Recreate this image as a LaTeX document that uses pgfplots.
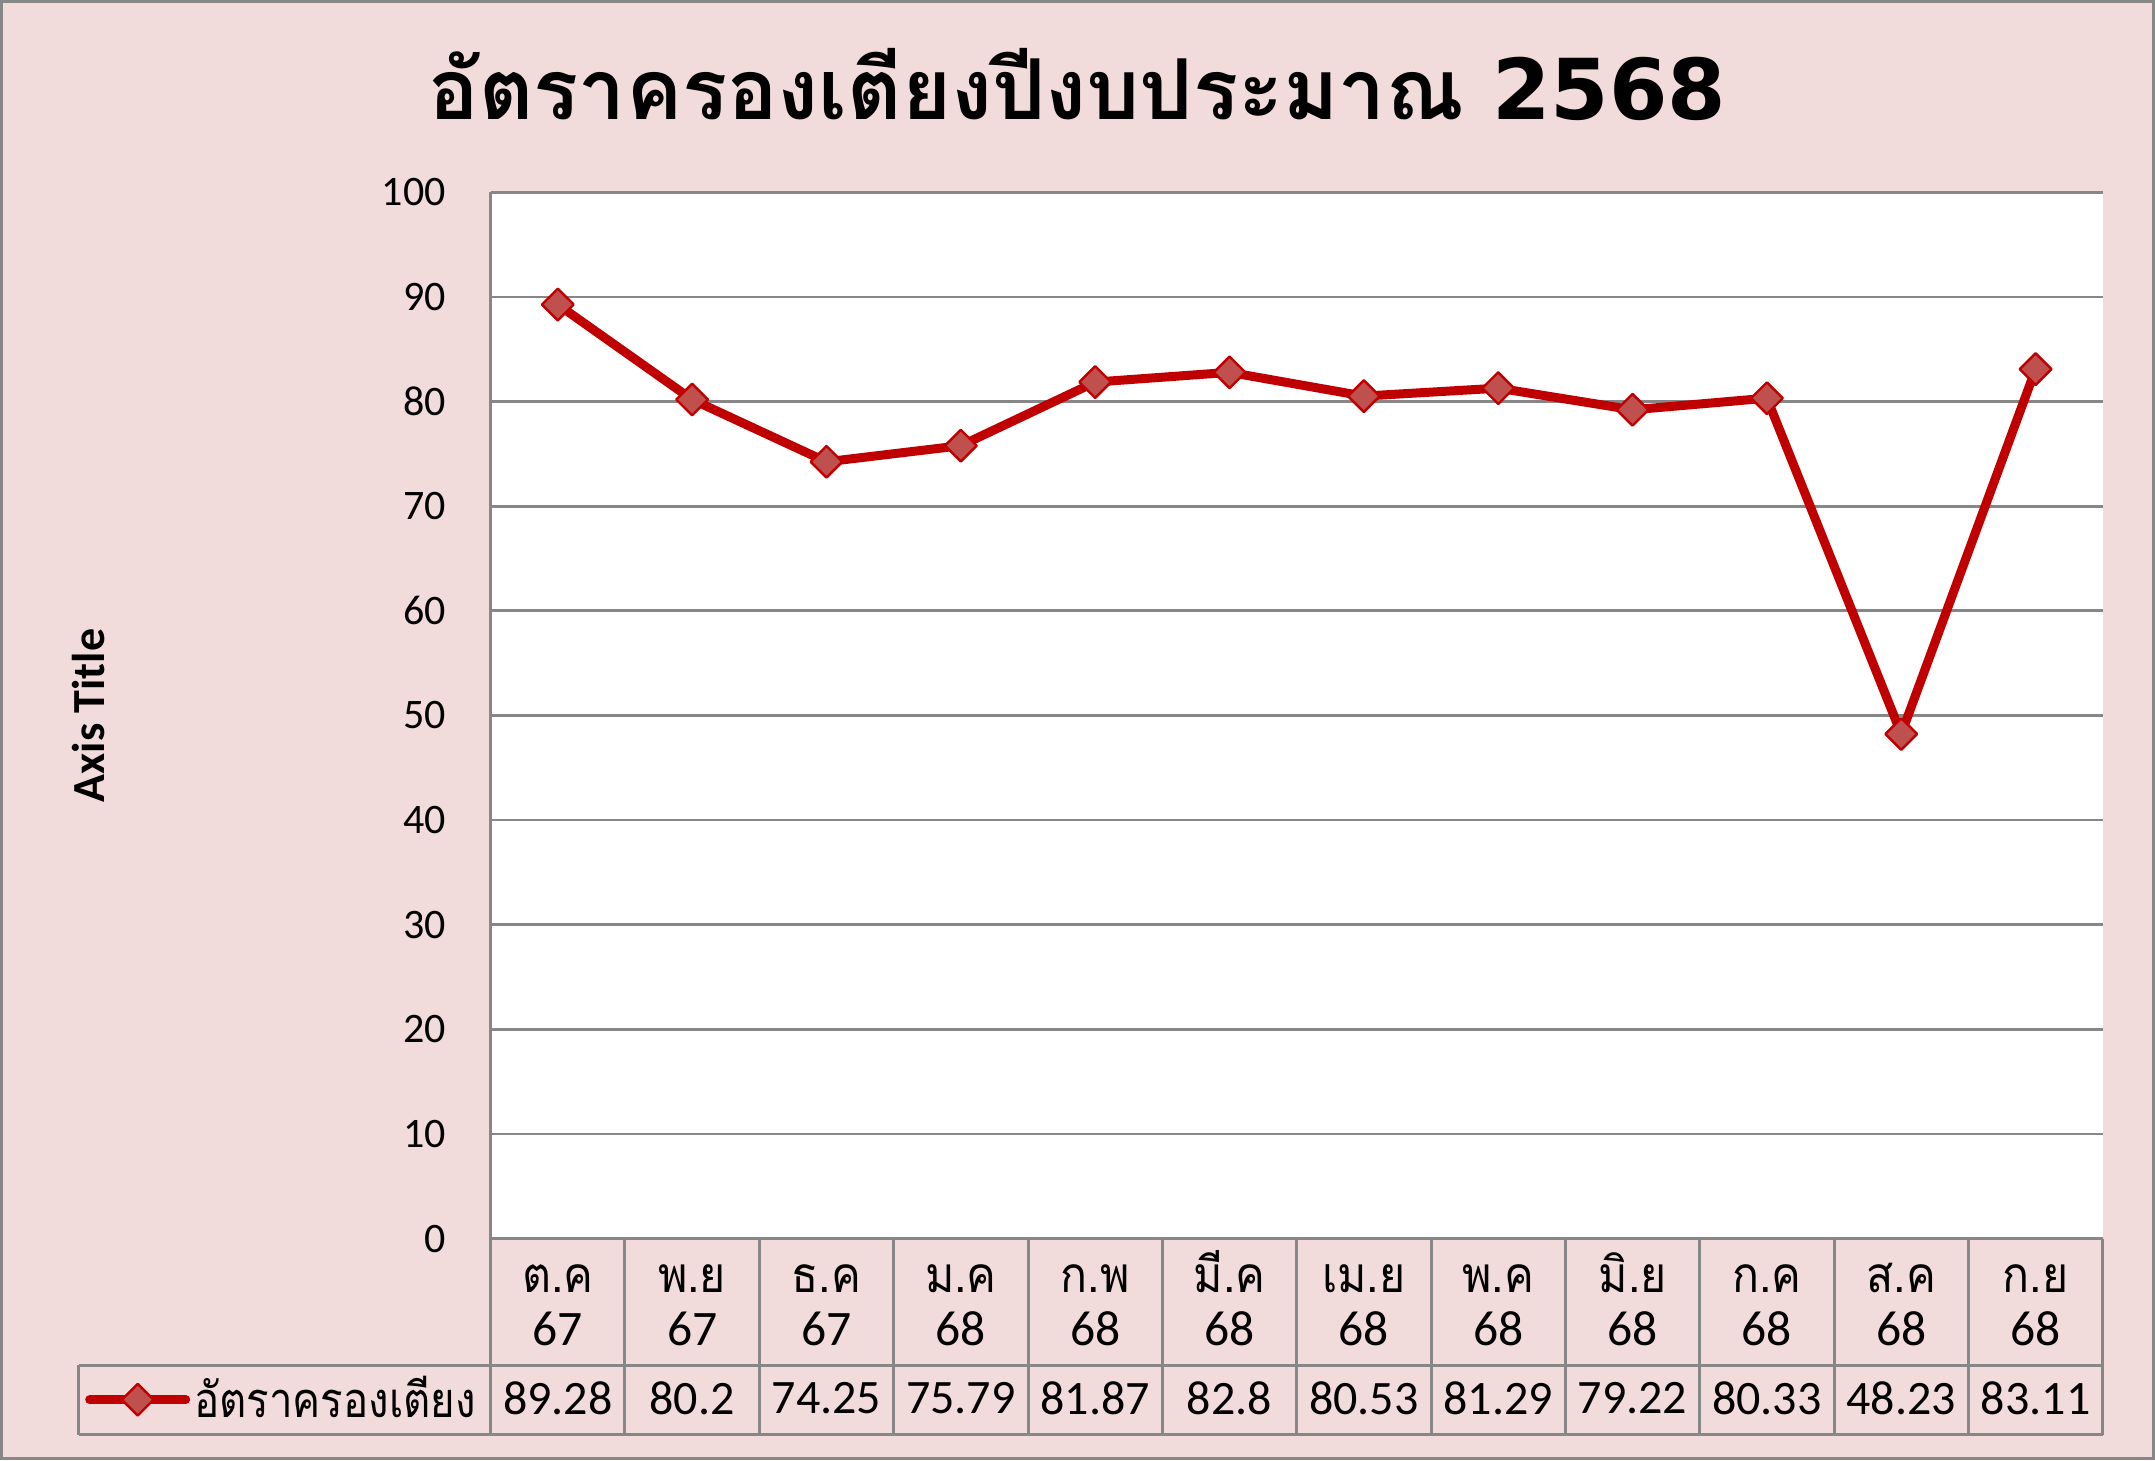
\documentclass[border=0pt]{standalone}
\usepackage{fontspec}
\setmainfont{Carlito}
\newfontfamily\thaifont[Script=Thai]{Loma}
\newfontfamily\thaitab[Script=Thai, FakeStretch=0.9]{Loma}
\newfontfamily\thaileg[Script=Thai, FakeStretch=0.86]{Loma}
\newfontfamily\titledigits{DejaVu Sans}
\usepackage{pgfplots}
\usepackage{pgfplotstable}
\pgfplotsset{compat=1.18}
\definecolor{bgpink}{HTML}{F2DCDB}
\definecolor{linered}{HTML}{C00000}
\definecolor{markred}{HTML}{C0504D}
\definecolor{gridgray}{HTML}{878787}

\pgfplotstableread{
x v
0 89.28
1 80.2
2 74.25
3 75.79
4 81.87
5 82.8
6 80.53
7 81.29
8 79.22
9 80.33
10 48.23
11 83.11
}\occ

\newcommand\tl[2]{{\thaitab\strut\smash{#1}}\\#2\strut}

\begin{document}
\begin{tikzpicture}
\fill[bgpink] (-122.65pt,-55.4pt) rectangle (416.05pt,309.6pt);
\begin{axis}[
 scale only axis, width=403pt, height=261.5pt,
 xmin=-0.5, xmax=11.5, ymin=0, ymax=100,
 ytick={0,10,...,100},
 xtick={0,...,11},
 xticklabels={\tl{ต.ค}{67},\tl{พ.ย}{67},\tl{ธ.ค}{67},\tl{ม.ค}{68},\tl{ก.พ}{68},\tl{มี.ค}{68},\tl{เม.ย}{68},\tl{พ.ค}{68},\tl{มิ.ย}{68},\tl{ก.ค}{68},\tl{ส.ค}{68},\tl{ก.ย}{68}},
 axis line style={draw=none},
 tick style={draw=none},
 ymajorgrids, grid style={gridgray, line width=0.7pt},
 axis background/.style={fill=white},
 clip=false,
 /pgf/number format/assume math mode=true,
 yticklabel style={font=\fontsize{10.5}{12}\selectfont, anchor=east, inner sep=0pt, xshift=-11pt},
 xticklabel style={font=\fontsize{12.4}{13.3}\selectfont, anchor=center, align=center, inner sep=0pt, yshift=-17.4pt},
 ylabel={\bfseries Axis Title},
 ylabel style={font=\fontsize{11.5}{13}\selectfont, at={(-0.2497,0.5)}, anchor=center},
 legend style={at={(-0.2515,-0.1541)}, anchor=west, draw=none, fill=none, inner sep=0pt, outer sep=0pt,
   font=\thaileg\fontsize{12.2}{13}\selectfont, nodes={inner sep=1pt},
   /tikz/every even column/.style={column sep=0pt}},
 legend image code/.code={\draw[#1, line cap=round, mark repeat=2, mark phase=2] plot coordinates {(0pt,0pt) (12pt,0pt) (24pt,0pt)};},
]
\addplot[linered, line width=2.25pt, line join=round, mark=square*, mark size=2.8pt,
  mark options={rotate=45, fill=markred, draw=linered, line width=0.6pt, solid}]
  table[x=x, y=v] {\occ};
\addlegendentry{อัตราครองเตียง}
\addplot[draw=none, mark=none, forget plot, nodes near coords, point meta=explicit symbolic,
  nodes near coords align={anchor=center},
  nodes near coords style={anchor=center, font=\fontsize{12}{13}\selectfont, inner sep=0pt, text=black}]
  table[x=x, y expr=-15.3, meta=v] {\occ};
\draw[gridgray, line width=0.75pt] (axis cs:-0.5,100) -- (axis cs:-0.5,-18.76);
\pgfplotsinvokeforeach{0.5,1.5,...,11.5}{\draw[gridgray, line width=0.75pt] (axis cs:#1,0) -- (axis cs:#1,-18.76);}
\draw[gridgray, line width=0.75pt] (axis cs:-0.5,0) -- (axis cs:11.5,0);
\draw[gridgray, line width=0.75pt] (axis cs:-3.564,-12.11) -- (axis cs:11.5,-12.11);
\draw[gridgray, line width=0.75pt] (axis cs:-3.564,-18.76) -- (axis cs:11.5,-18.76);
\draw[gridgray, line width=0.75pt] (axis cs:-3.564,-12.11) -- (axis cs:-3.564,-18.76);
\end{axis}
\node[anchor=base, font=\fontsize{21}{24}\selectfont\bfseries] at (146.7pt,279.85pt) {\thaifont อัตราครองเตียงปีงบประมาณ \titledigits 2568};
\draw[gridgray, line width=0.75pt] (-122.25pt,-55.0pt) rectangle (415.65pt,309.2pt);
\pgfresetboundingbox
\useasboundingbox (-122.65pt,-55.4pt) rectangle (416.05pt,309.6pt);
\end{tikzpicture}
\end{document}
